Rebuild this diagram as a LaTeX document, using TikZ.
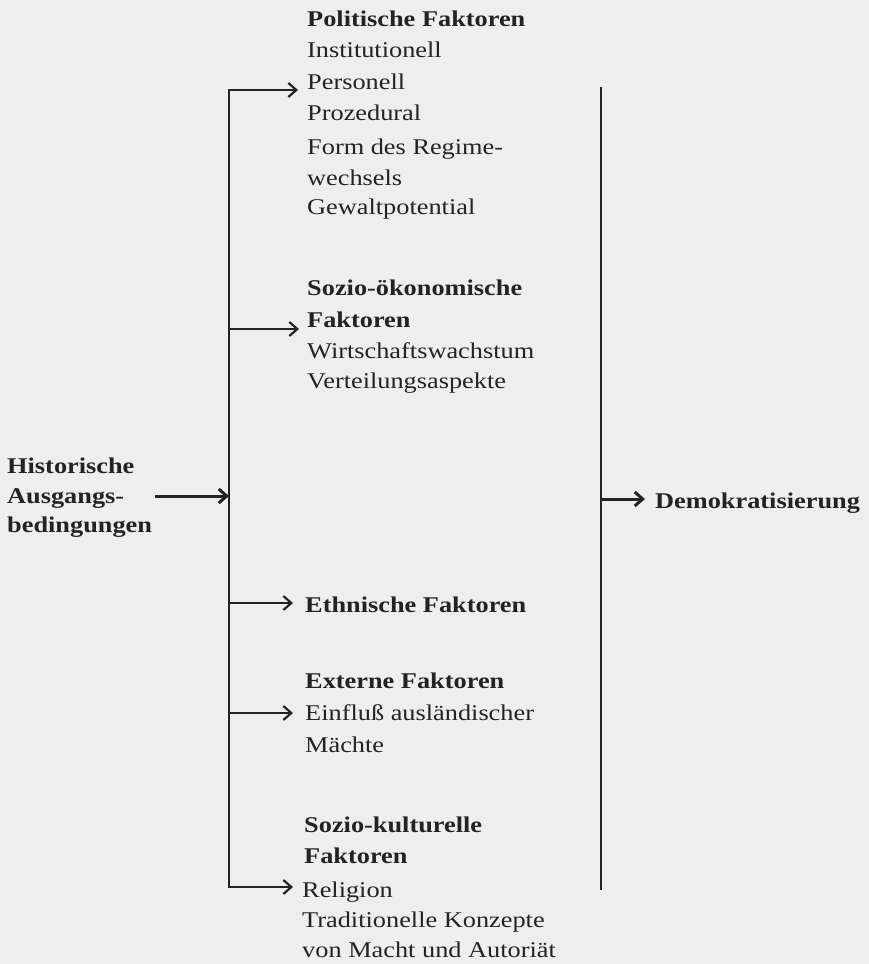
\documentclass[tikz,border=0pt]{standalone}
\usepackage{fontspec}
\setmainfont{Liberation Serif}[FakeStretch=1.17]
\usetikzlibrary{arrows.meta,calc}
\definecolor{ink}{RGB}{35,35,35}
\definecolor{paper}{RGB}{238,238,238}
\begin{document}
\begin{tikzpicture}[x=1pt,y=-1pt,
  txt/.style={anchor=base west, inner sep=0pt, text=ink, font=\fontsize{22.5}{31}\selectfont},
  bf/.style={anchor=base west, inner sep=0pt, text=ink, font=\fontsize{22.5}{31}\selectfont\bfseries},
  spine/.style={draw=ink, line width=2.2pt},
  arr/.style={draw=ink, line width=2.2pt, -{Straight Barb[length=8pt,width=14pt]}},
  arrthick/.style={draw=ink, line width=3pt, -{Straight Barb[length=8pt,width=14pt]}}]
\fill[paper] (0,0) rectangle (869,964);
\useasboundingbox (0,0) rectangle (869,964);
% text blocks
\node[bf]  (pol)  at (307,26)  {Politische Faktoren};
\node[txt] (inst) at (307,57)  {Institutionell};
\node[txt] (pers) at (307,89)  {Personell};
\node[txt] (proz) at (307,120) {Prozedural};
\node[txt] (form) at (307,154) {Form des Regime-};
\node[txt] (wech) at (307,185) {wechsels};
\node[txt] (gew)  at (307,214) {Gewaltpotential};
\node[bf]  (soz)  at (307,295) {Sozio-ökonomische};
\node[bf]  (sozf) at (307,327) {Faktoren};
\node[txt] (wirt) at (307,358) {Wirtschaftswachstum};
\node[txt] (vert) at (307,388) {Verteilungsaspekte};
\node[bf]  (hist) at (7,473)   {Historische};
\node[bf]  (ausg) at (7,503)   {Ausgangs-};
\node[bf]  (bed)  at (7,532)   {bedingungen};
\node[bf]  (demo) at (655,508) {Demokratisierung};
\node[bf]  (eth)  at (305,612) {Ethnische Faktoren};
\node[bf]  (ext)  at (305,688) {Externe Faktoren};
\node[txt] (einf) at (305,720) {Einfluß ausländischer};
\node[txt] (mach) at (305,752) {Mächte};
\node[bf]  (kul)  at (304,832) {Sozio-kulturelle};
\node[bf]  (kulf) at (304,863) {Faktoren};
\node[txt] (rel)  at (302,897) {Religion};
\node[txt] (trad) at (302,927) {Traditionelle Konzepte};
\node[txt] (von)  at (302,957) {von Macht und Autoriät};
% spines
\coordinate (lt) at (229,90);
\coordinate (lb) at (229,887);
\coordinate (rt) at (601,87);
\coordinate (rb) at (601,890);
\draw[spine] (rt) -- (rb);
\draw[spine, {Straight Barb[length=8pt,width=14pt]}-{Straight Barb[length=8pt,width=14pt]}]
  ($(pers.west|-lt)+(-9,0)$) -- (lt) -- (lb) -- ($(rel.west|-lb)+(-9,0)$);
% branch arrows
\coordinate (s2) at (229,329);
\coordinate (s3) at (229,603);
\coordinate (s4) at (229,713);
\draw[arr] (s2) -- ($(sozf.west|-s2)+(-8,0)$);
\draw[arr] (s3) -- ($(eth.west|-s3)+(-12,0)$);
\draw[arr] (s4) -- ($(einf.west|-s4)+(-12,0)$);
% input and output
\coordinate (h0) at (155,496);
\draw[arrthick] (h0) -- (h0 -| lt);
\coordinate (d0) at (601,499);
\draw[arrthick] (d0) -- ($(demo.west|-d0)+(-10,0)$);
\end{tikzpicture}
\end{document}
